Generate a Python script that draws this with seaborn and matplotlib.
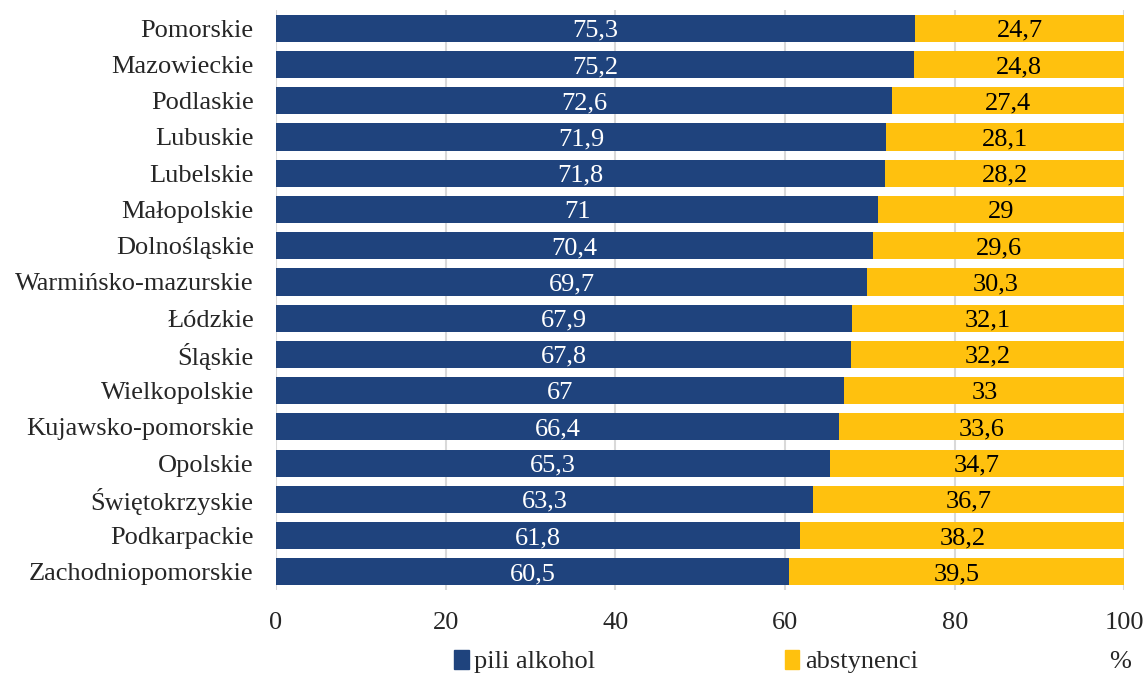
import pandas as pd
import seaborn as sns
import matplotlib.pyplot as plt
from matplotlib.patches import Patch

# data
regions = ["Pomorskie", "Mazowieckie", "Podlaskie", "Lubuskie", "Lubelskie",
           "Małopolskie", "Dolnośląskie", "Warmińsko-mazurskie", "Łódzkie",
           "Śląskie", "Wielkopolskie", "Kujawsko-pomorskie", "Opolskie",
           "Świętokrzyskie", "Podkarpackie", "Zachodniopomorskie"]
drank = [75.3, 75.2, 72.6, 71.9, 71.8, 71, 70.4, 69.7, 67.9, 67.8, 67, 66.4,
         65.3, 63.3, 61.8, 60.5]
abstain = [24.7, 24.8, 27.4, 28.1, 28.2, 29, 29.6, 30.3, 32.1, 32.2, 33, 33.6,
           34.7, 36.7, 38.2, 39.5]

blue = "#1F437D"
yellow = "#FFC10E"
fs = 19

df = pd.DataFrame({"region": regions, "drank": drank, "abstain": abstain})
df["total"] = df["drank"] + df["abstain"]

sns.set_style("white")
plt.rcParams["font.family"] = ["Liberation Serif", "DejaVu Serif"]

fig = plt.figure(figsize=(11.45, 6.75), dpi=100)
ax = fig.add_axes([0.241, 0.126, 0.741, 0.859])

# stacked: full-length yellow underneath, blue on top
sns.barplot(data=df, x="total", y="region", color=yellow, saturation=1,
            width=0.75, linewidth=0, ax=ax, zorder=2)
sns.barplot(data=df, x="drank", y="region", color=blue, saturation=1,
            width=0.75, linewidth=0, ax=ax, zorder=3)

for i, (d, a) in enumerate(zip(drank, abstain)):
    ax.text(d / 2, i, f"{d:g}".replace(".", ","), ha="center",
            va="center_baseline", color="white", fontsize=fs, zorder=4)
    ax.text(d + a / 2, i, f"{a:g}".replace(".", ","), ha="center",
            va="center_baseline", color="black", fontsize=fs, zorder=4)

ax.set_xlim(0, 100)
ax.set_ylim(15.5, -0.5)
ax.set_xticks(range(0, 101, 20))
ax.xaxis.grid(True, color="#D9D9D9", linewidth=1.5, zorder=0)
ax.set_axisbelow(True)
ax.set_xlabel("")
ax.set_ylabel("")
ax.tick_params(axis="both", labelsize=fs, length=0)
ax.tick_params(axis="x", pad=16)
ax.tick_params(axis="y", pad=16)
for s in ax.spines.values():
    s.set_visible(False)

handles = [Patch(color=blue, label="pili alkohol"),
           Patch(color=yellow, label="abstynenci")]
fig.legend(handles=handles, loc="center", bbox_to_anchor=(0.599, 0.02),
           ncol=2, frameon=False, fontsize=fs, handlelength=0.55,
           handleheight=0.75, handletextpad=0.2, columnspacing=7.2)
fig.text(0.978, 0.02, "%", ha="center", va="center", fontsize=fs)

fig.savefig("out.png", dpi=100)
